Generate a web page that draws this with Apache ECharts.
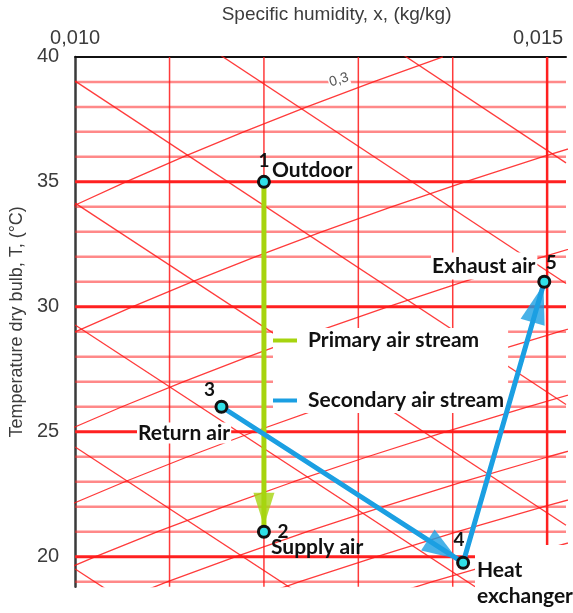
<!DOCTYPE html>
<html>
<head>
<meta charset="utf-8">
<script src="https://cdn.jsdelivr.net/npm/echarts@6/dist/echarts.min.js"></script>
<style>
  html, body { margin: 0; padding: 0; background: #fff; }
  #chart { width: 573px; height: 613px; }
</style>
</head>
<body>
<div id="chart"></div>
<script>
// ---- Chart values ----
// axis ranges and tick labels
const xMin = 0.010, xMax = 0.0152, xStep = 0.001;
const yMin = 18.8, yMax = 40;
const xLabelValues = [0.010, 0.015];
const xLabelTexts = ['0,010', '0,015'];
const yLabelValues = [20, 25, 30, 35, 40];

// constant-temperature lines (°C) and constant-humidity lines (kg/kg)
const isotherms = [19, 20, 21, 22, 23, 24, 25, 26, 27, 28, 29, 30, 31, 32, 33, 34, 35, 36, 37, 38, 39];
const humidityLines = [0.011, 0.012, 0.013, 0.014, 0.015];

// constant-enthalpy lines (kJ/kg): start and end points [x, T]
const enthalpyValues = [45, 50, 55, 60, 65, 70, 75];
const enthalpyFrom = [[0.010, 19.51], [0.010, 24.39], [0.010, 29.27], [0.010, 34.15], [0.010, 39.03], [0.010, 43.91], [0.010, 48.79]];
const enthalpyTo = [[0.0106, 18.03], [0.0128, 17.47], [0.0152, 16.42], [0.0152, 21.26], [0.0152, 26.09], [0.0152, 30.93], [0.0152, 35.76]];

// relative humidity curves [x, T]
const rh30 = [[0.00996, 34], [0.010538, 35], [0.011145, 36], [0.011785, 37], [0.012455, 38], [0.013159, 39], [0.013896, 40]];
const rh40 = [[0.0100, 29], [0.010604, 30], [0.011237, 31], [0.011907, 32], [0.012611, 33], [0.013351, 34], [0.014131, 35], [0.014948, 36], [0.015812, 37]];
const rh50 = [[0.009881, 25], [0.010496, 26], [0.011144, 27], [0.011829, 28], [0.01255, 29], [0.013311, 30], [0.01411, 31], [0.014955, 32], [0.015845, 33]];
const rh60 = [[0.009897, 22], [0.010525, 23], [0.011192, 24], [0.011895, 25], [0.012638, 26], [0.013421, 27], [0.014249, 28], [0.015121, 29], [0.016042, 30]];
const rh70 = [[0.009586, 19], [0.010216, 20], [0.010874, 21], [0.011577, 22], [0.012314, 23], [0.013097, 24], [0.013922, 25], [0.014795, 26], [0.015715, 27]];
const rh80 = [[0.010304, 18], [0.01098, 19], [0.011703, 20], [0.012458, 21], [0.013266, 22], [0.014113, 23], [0.015013, 24], [0.015962, 25]];
const rh90 = [[0.011616, 18], [0.01238, 19], [0.013197, 20], [0.01405, 21], [0.014965, 22], [0.015922, 23]];
const rh100 = [[0.012934, 18], [0.013786, 19], [0.014698, 20], [0.015651, 21]];
const rhCurves = [rh30, rh40, rh50, rh60, rh70, rh80, rh90, rh100];

// air states
const stateNames = ['1', '2', '3', '4', '5'];
const stateX = [0.0120, 0.0120, 0.01155, 0.01411, 0.01497];
const stateT = [35, 21, 26, 19.76, 31];
const primaryPath = [0, 1];        // outdoor -> supply
const secondaryPath = [2, 3, 4];   // return -> heat exchanger -> exhaust
const streamNames = ['Primary air stream', 'Secondary air stream'];

// ---- Styling ----
const GREEN = '#a6d40f';
const BLUE = '#1b9fe2';
const RED_THIN = 'rgba(255,40,40,0.55)';
const RED_THICK = '#ff2020';
const RED_LINE = 'rgba(255,25,25,0.85)';
const AXIS_TEXT = '#3c3c3c';
const NOTE_FONT = 'Lato';
const NOTE_SIZE = 21;

const pt = i => [stateX[i], stateT[i]];

function gridLine(data, color, width) {
  return {
    type: 'line', data, symbol: 'none', silent: true, clip: true,
    lineStyle: { color, width }, z: 1, animation: false
  };
}

const series = [];
isotherms.forEach(t => {
  const major = t % 5 === 0;
  series.push(gridLine([[xMin, t], [xMax, t]], major ? RED_THICK : RED_THIN, major ? 3 : 2.5));
});
humidityLines.forEach(x => {
  const major = Math.abs(x - 0.015) < 1e-9;
  series.push(gridLine([[x, yMin], [x, yMax]], major ? RED_THICK : RED_LINE, major ? 2.5 : 1.5));
});
enthalpyValues.forEach((h, i) => {
  series.push(gridLine([enthalpyFrom[i], enthalpyTo[i]], RED_LINE, 1.3));
});
rhCurves.forEach(c => series.push(gridLine(c, RED_LINE, 1.3)));

// process streams
series.push({
  type: 'line', name: streamNames[0], data: primaryPath.map(pt), symbol: 'none',
  lineStyle: { color: GREEN, width: 5 }, itemStyle: { color: GREEN }, z: 5, animation: false
});
series.push({
  type: 'line', name: streamNames[1], data: secondaryPath.map(pt), symbol: 'none',
  lineStyle: { color: BLUE, width: 5 }, itemStyle: { color: BLUE }, z: 5, animation: false
});

// arrow heads (filled after layout)
const arrowSeries = {
  type: 'scatter', id: 'arrows', symbol: 'triangle', data: [], silent: true, z: 6, animation: false
};
series.push(arrowSeries);

// state markers with numbers
const numberOffsets = [[0, -21], [19, 0], [-12, -17], [-4, -23], [7, -19]];
series.push({
  type: 'scatter', symbol: 'circle', symbolSize: 11, z: 7, animation: false,
  itemStyle: { color: '#2fe0e8', borderColor: '#111', borderWidth: 3, opacity: 1 },
  data: stateNames.map((n, i) => ({
    value: pt(i), name: n,
    label: { show: true, position: 'inside', offset: numberOffsets[i], formatter: n }
  })),
  label: { fontFamily: NOTE_FONT, fontWeight: 'bold', fontSize: 19, color: '#111' }
});

function note(text, x, y, extra) {
  return {
    type: 'text', x, y, z: 8,
    style: Object.assign({
      text, fontFamily: NOTE_FONT, fontWeight: 'bold', fontSize: NOTE_SIZE,
      fill: '#111', align: 'left', verticalAlign: 'middle'
    }, extra || {})
  };
}

const option = {
  animation: false,
  backgroundColor: '#fff',
  grid: { left: 75, top: 56.7, right: 7, bottom: 26.3, containLabel: false },
  xAxis: {
    type: 'value', position: 'top', min: xMin, max: xMax, interval: xStep,
    axisLine: { show: true, lineStyle: { color: '#111', width: 2 } },
    axisTick: { show: false },
    splitLine: { show: false },
    axisLabel: {
      customValues: xLabelValues, margin: 8,
      fontFamily: 'Liberation Sans', fontSize: 20, color: AXIS_TEXT,
      formatter: v => {
        const i = xLabelValues.findIndex(a => Math.abs(a - v) < 1e-9);
        if (i < 0) return '';
        return i === xLabelValues.length - 1 ? '{r|' + xLabelTexts[i] + '}' : xLabelTexts[i];
      },
      rich: { r: { fontFamily: 'Liberation Sans', fontSize: 20, color: AXIS_TEXT, padding: [0, 18, 0, 0] } }
    },
    name: 'Specific humidity, x, (kg/kg)', nameLocation: 'middle', nameGap: 27,
    nameTextStyle: { fontFamily: 'Liberation Sans', fontSize: 19, color: AXIS_TEXT, padding: [0, 0, 0, 32] }
  },
  yAxis: {
    type: 'value', min: yMin, max: yMax,
    axisLine: { show: true, lineStyle: { color: '#3a3a3a', width: 2.5 } },
    axisTick: { show: false },
    splitLine: { show: false },
    axisLabel: {
      customValues: yLabelValues, margin: 16,
      fontFamily: 'Liberation Sans', fontSize: 20, color: AXIS_TEXT
    },
    name: 'Temperature dry bulb, T, (°C)', nameLocation: 'middle', nameGap: 44, nameRotate: 90,
    nameTextStyle: { fontFamily: 'Liberation Sans', fontSize: 18, color: AXIS_TEXT }
  },
  legend: {
    data: streamNames, orient: 'vertical', left: 273, top: 328,
    padding: [2, 4, 2, 0], itemGap: 39, icon: 'rect', itemWidth: 24, itemHeight: 4,
    backgroundColor: '#fff', selectedMode: false, z: 4,
    textStyle: { fontFamily: NOTE_FONT, fontWeight: 'bold', fontSize: NOTE_SIZE, color: '#111', padding: [0, 0, 0, 6] }
  },
  graphic: [
    { type: 'rect', shape: { x: 475, y: 545, width: 98, height: 68 }, style: { fill: '#fff' }, z: 3 },
    note('Outdoor', 272, 170),
    note('Exhaust air', 431, 266, { backgroundColor: '#fff', padding: [3, 2, 3, 1] }),
    note('Return air', 137, 433, { backgroundColor: '#fff', padding: [0, 1, 0, 1] }),
    note('Supply air', 271, 547),
    note('Heat', 477, 570),
    note('exchanger', 477, 596),
    {
      type: 'text', x: 339, y: 80, rotation: 0.3, z: 3,
      style: {
        text: '0,3', fontFamily: 'Liberation Sans', fontSize: 14, fill: '#555',
        align: 'center', verticalAlign: 'middle', backgroundColor: '#fff', padding: [0, 1, 0, 1]
      }
    }
  ],
  series
};

const chart = echarts.init(document.getElementById('chart'), null, { renderer: 'canvas' });
chart.setOption(option);

// arrow heads placed along each stream segment, in pixel space from the axes
function arrowHead(fromIdx, toIdx, back, len, width, color) {
  const a = chart.convertToPixel({ gridIndex: 0 }, pt(fromIdx));
  const b = chart.convertToPixel({ gridIndex: 0 }, pt(toIdx));
  const dx = b[0] - a[0], dy = b[1] - a[1];
  const L = Math.hypot(dx, dy);
  const ux = dx / L, uy = dy / L;
  const tip = [b[0] - ux * back, b[1] - uy * back];
  const c = [tip[0] - ux * len / 2, tip[1] - uy * len / 2];
  const rot = Math.atan2(-dy, dx) * 180 / Math.PI - 90;
  return {
    value: chart.convertFromPixel({ gridIndex: 0 }, c),
    symbolSize: [width, len], symbolRotate: rot,
    itemStyle: { color }
  };
}

chart.setOption({
  series: [{
    id: 'arrows',
    data: [
      arrowHead(0, 1, 6, 33, 21, GREEN),
      arrowHead(2, 3, 7, 35, 25, BLUE),
      arrowHead(3, 4, 3, 39, 25, BLUE)
    ]
  }]
});
</script>
</body>
</html>
